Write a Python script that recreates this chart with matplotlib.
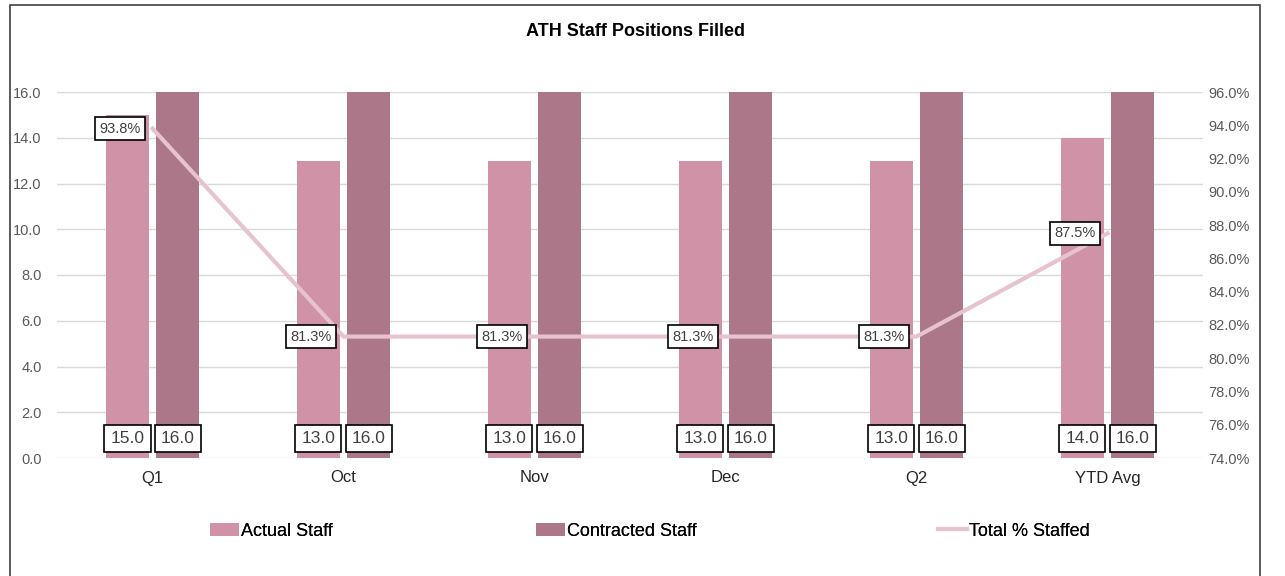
import matplotlib.pyplot as plt
import numpy as np
from matplotlib.patches import Rectangle
from matplotlib.ticker import FuncFormatter

categories = ["Q1", "Oct", "Nov", "Dec", "Q2", "YTD Avg"]
actual_staff = [15.0, 13.0, 13.0, 13.0, 13.0, 14.0]
contracted_staff = [16.0, 16.0, 16.0, 16.0, 16.0, 16.0]
pct_staffed = [93.8, 81.3, 81.3, 81.3, 81.3, 87.5]

ACTUAL_COLOR = "#D092A7"
CONTRACT_COLOR = "#AC7788"
LINE_COLOR = "#E6C3CD"
TICK_COLOR = "#595959"


def main():
    plt.rcParams.update({"font.family": ["Liberation Sans", "DejaVu Sans"]})
    fig = plt.figure(figsize=(12.85, 5.76), dpi=100)
    ax = fig.add_axes([57 / 1285, 1 - 458 / 576, 1146 / 1285, 366 / 576])
    ax2 = ax.twinx()

    x = np.arange(len(categories))
    w = 0.23
    off = 0.131
    ax.bar(x - off, actual_staff, w, color=ACTUAL_COLOR, label="Actual Staff", zorder=2)
    ax.bar(x + off, contracted_staff, w, color=CONTRACT_COLOR, label="Contracted Staff", zorder=2)

    box = dict(boxstyle="square,pad=0.35", fc="white", ec="black", lw=1.2)
    for xi, a, c in zip(x, actual_staff, contracted_staff):
        ax.text(xi - off, 0.85, f"{a:.1f}", ha="center", va="center", fontsize=12.5,
                color="#404040", bbox=box, zorder=5)
        ax.text(xi + off, 0.85, f"{c:.1f}", ha="center", va="center", fontsize=12.5,
                color="#404040", bbox=box, zorder=5)

    ax.set_xlim(-0.5, len(categories) - 0.5)
    ax.set_ylim(0, 16)
    ax.set_yticks(np.arange(0, 16.1, 2))
    ax.yaxis.set_major_formatter(FuncFormatter(lambda v, p: f"{v:.1f}"))
    ax.set_xticks(x)
    ax.set_xticklabels(categories)
    ax.grid(axis="y", color="#D9D9D9", linewidth=1.0, zorder=0)
    ax.set_axisbelow(True)
    ax.tick_params(axis="y", length=0, labelsize=10.5, labelcolor=TICK_COLOR, pad=11)
    ax.tick_params(axis="x", length=0, labelsize=12, labelcolor="#262626", pad=9)
    for s in ax.spines.values():
        s.set_visible(False)

    ax2.plot(x, pct_staffed, color=LINE_COLOR, linewidth=3, label="Total % Staffed", zorder=3)
    for xi, p in zip(x, pct_staffed):
        ax2.text(xi - 0.17, p, f"{p:.1f}%", ha="center", va="center", fontsize=10.5,
                 color="#404040", bbox=dict(boxstyle="square,pad=0.3", fc="white", ec="black", lw=1.2),
                 zorder=6)
    ax2.set_ylim(74, 96)
    ax2.set_yticks(np.arange(74, 96.1, 2))
    ax2.yaxis.set_major_formatter(FuncFormatter(lambda v, p: f"{v:.1f}%"))
    ax2.tick_params(axis="y", length=0, labelsize=10.5, labelcolor=TICK_COLOR, pad=4)
    for s in ax2.spines.values():
        s.set_visible(False)

    fig.text(635 / 1285, 1 - 32 / 576, "ATH Staff Positions Filled", ha="center", va="center",
             fontsize=13, fontweight="bold", color="black")

    h1, l1 = ax.get_legend_handles_labels()
    h2, l2 = ax2.get_legend_handles_labels()
    lefts = [210, 536, 938]
    for h, l, lx in zip(h1 + h2, l1 + l2, lefts):
        leg = fig.legend([h], [l], loc="center left", bbox_to_anchor=(lx / 1285, 1 - 531 / 576),
                         frameon=False, fontsize=13, handlelength=1.6, handletextpad=0.1,
                         borderpad=0, borderaxespad=0)
        fig.add_artist(leg)

    fig.add_artist(Rectangle((10 / 1285, -0.01), 1250 / 1285, 1 - 5 / 576 + 0.01,
                             transform=fig.transFigure, fill=False, ec="#404040", lw=1.2))

    fig.savefig("out.png", dpi=100)


if __name__ == "__main__":
    main()
